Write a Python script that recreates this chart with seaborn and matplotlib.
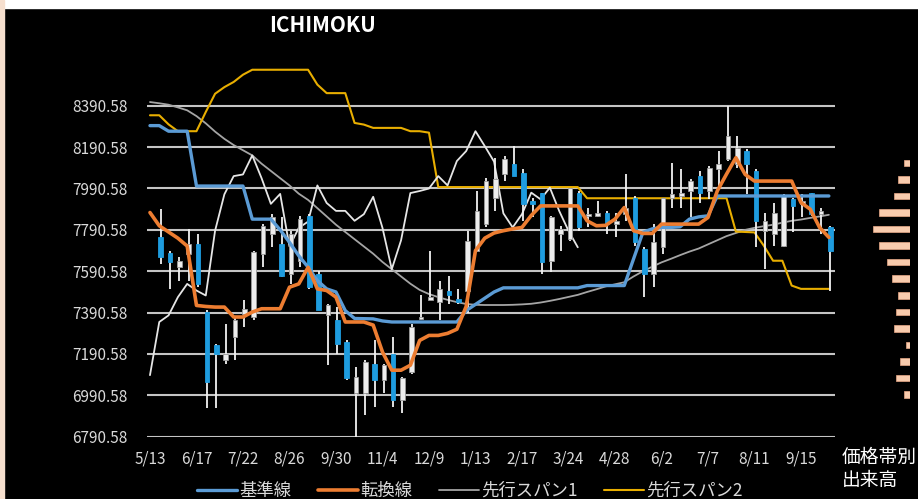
import numpy as np
import matplotlib
matplotlib.use("Agg")
import matplotlib.pyplot as plt
from matplotlib.patches import Rectangle
import seaborn as sns

# x axis labels (every 5th week)
tick_labels = ["5/13", "6/17", "7/22", "8/26", "9/30", "11/4", "12/9", "1/13",
               "2/17", "3/24", "4/28", "6/2", "7/7", "8/11", "9/15"]
price_ticks = [6790.58, 6990.58, 7190.58, 7390.58, 7590.58, 7790.58, 7990.58, 8190.58, 8390.58]

# ichimoku lines, one value per week
kijun = [8294, 8294, 8267, 8267, 8267, 8002, 8002, 8002, 8002, 8002,
         8002, 7842, 7842, 7842, 7790, 7730, 7665, 7610, 7545, 7505,
         7490, 7400, 7362, 7361, 7360, 7350, 7345, 7345, 7345, 7345,
         7345, 7345, 7345, 7345, 7400, 7430, 7460, 7490, 7510, 7510,
         7510, 7510, 7510, 7510, 7510, 7510, 7510, 7521, 7521, 7521,
         7521, 7521, 7650, 7778, 7795, 7802, 7802, 7805, 7842, 7853,
         7858, 7954, 7954, 7954, 7954, 7954, 7954, 7954, 7954, 7954,
         7954, 7954, 7954, 7954]
tenkan = [7874, 7810, 7780, 7750, 7712, 7425, 7420, 7417, 7417, 7369,
          7369, 7393, 7409, 7409, 7409, 7513, 7529, 7609, 7505, 7497,
          7465, 7345, 7345, 7345, 7330, 7200, 7112, 7112, 7136, 7256,
          7280, 7280, 7290, 7310, 7420, 7690, 7750, 7775, 7786, 7795,
          7802, 7860, 7906, 7906, 7906, 7906, 7906, 7834, 7810, 7812,
          7842, 7898, 7786, 7773, 7773, 7818, 7818, 7818, 7818, 7818,
          7850, 7978, 8060, 8139, 8058, 8026, 8026, 8026, 8026, 8026,
          7922, 7890, 7802, 7754]
senkou1 = [8408, 8402, 8395, 8382, 8368, 8340, 8305, 8265, 8230, 8200,
           8175, 8150, 8110, 8075, 8040, 8005, 7965, 7935, 7895, 7855,
           7815, 7780, 7745, 7710, 7675, 7635, 7600, 7565, 7530, 7500,
           7480, 7465, 7452, 7441, 7432, 7428, 7427, 7427, 7427, 7428,
           7430, 7433, 7439, 7447, 7456, 7466, 7476, 7490, 7503, 7517,
           7527, 7537, 7565, 7590, 7612, 7633, 7650, 7668, 7685, 7700,
           7720, 7740, 7760, 7775, 7790, 7800, 7808, 7815, 7825, 7834,
           7840, 7848, 7855, 7863]
senkou2 = [8344, 8344, 8300, 8267, 8267, 8267, 8360, 8448, 8480, 8505,
           8540, 8564, 8564, 8564, 8564, 8564, 8564, 8564, 8492, 8451,
           8451, 8451, 8307, 8299, 8283, 8283, 8283, 8283, 8267, 8267,
           8260, 7997, 7997, 7997, 7997, 7997, 7997, 7997, 7997, 7997,
           7997, 7997, 7997, 7997, 7997, 7997, 7997, 7943, 7943, 7943,
           7943, 7943, 7943, 7943, 7943, 7943, 7943, 7943, 7943, 7943,
           7943, 7943, 7943, 7782, 7780, 7778, 7714, 7641, 7641, 7521,
           7505, 7505, 7505, 7505]
chikou = [7088, 7345, 7377, 7465, 7529, 7497, 7473, 7786, 7962, 8050,
          8058, 8150, 8040, 7916, 7964, 7710, 7800, 7830, 8005, 7920,
          7882, 7882, 7834, 7866, 7950, 7800, 7600, 7740, 7968, 7978,
          7990, 8050, 8005, 8123, 8171, 8267, 8195, 8120, 7870, 7802,
          7866, 7970, 7938, 7994, 7882, 7786, 7706]

# weekly candles
opens = [7754, 7677, 7609, 7673, 7722, 7393, 7232, 7160, 7272, 7385,
         7369, 7673, 7770, 7722, 7577, 7641, 7858, 7577, 7377, 7353,
         7248, 7000, 7000, 7144, 7064, 7192, 6968, 7104, 7361, 7449,
         7441, 7497, 7457, 7497, 7690, 7818, 7946, 8058, 8107, 8066,
         7930, 7970, 7641, 7770, 7746, 7970, 7858, 7858, 7874, 7818,
         7866, 7946, 7698, 7577, 7706, 7946, 7954, 7978, 8050, 7978,
         8082, 8131, 8107, 8171, 8074, 7786, 7770, 7714, 7938, 7914,
         7970, 7866, 7802]
highs = [7890, 7690, 7657, 7794, 7770, 7401, 7240, 7337, 7369, 7449,
         7690, 7818, 7866, 7850, 7786, 7858, 7866, 7593, 7433, 7417,
         7256, 7128, 7160, 7256, 7144, 7272, 7080, 7337, 7473, 7690,
         7545, 7569, 7505, 7786, 7978, 8042, 8139, 8147, 8195, 8082,
         7946, 7970, 7858, 7810, 7994, 7978, 7898, 7930, 7882, 7874,
         8058, 7954, 7706, 7818, 7946, 8115, 8082, 8034, 8074, 8099,
         8171, 8387, 8243, 8179, 8082, 7874, 7922, 7962, 7946, 7962,
         7970, 7898, 7810]
lows = [7625, 7505, 7545, 7545, 7513, 6928, 6928, 7144, 7160, 7321,
        7353, 7609, 7706, 7561, 7529, 7609, 7505, 7401, 7136, 7192,
        7064, 6791, 6896, 6936, 7000, 6936, 6904, 7096, 7353, 7449,
        7353, 7433, 7433, 7390, 7690, 7802, 7882, 8026, 8050, 7834,
        7850, 7577, 7585, 7690, 7738, 7786, 7802, 7850, 7770, 7754,
        7834, 7714, 7465, 7513, 7673, 7898, 7898, 7850, 7922, 7938,
        8002, 8123, 8090, 7962, 7706, 7601, 7714, 7706, 7778, 7850,
        7858, 7770, 7497]
closes = [7657, 7633, 7641, 7722, 7529, 7056, 7192, 7192, 7353, 7409,
          7682, 7810, 7850, 7569, 7770, 7842, 7513, 7401, 7425, 7240,
          7072, 7080, 7152, 7064, 7136, 6968, 7072, 7321, 7369, 7465,
          7505, 7473, 7441, 7738, 7882, 8026, 8034, 8131, 8050, 7914,
          7914, 7633, 7850, 7794, 7994, 7802, 7866, 7874, 7818, 7834,
          7898, 7730, 7577, 7730, 7946, 7962, 7970, 8026, 7970, 8090,
          8107, 8243, 8187, 8107, 7834, 7834, 7874, 7954, 7906, 7930,
          7866, 7882, 7690]

# volume by price band
vol_levels = [8114, 8034, 7954, 7874, 7794, 7714, 7634, 7554, 7474, 7394, 7314, 7234, 7154, 7074, 6994]
vol_amount = [6, 12, 16, 31, 37, 31, 23, 18, 12, 14, 16, 4, 10, 14, 6]

sns.set_style("dark")
plt.rcParams["font.family"] = ["Noto Sans CJK JP", "DejaVu Sans"]
txt = "#D9D9D9"

W, H = 918, 499
fig = plt.figure(figsize=(W / 100, H / 100), dpi=100, facecolor="black")
ax = fig.add_axes([147 / W, 1 - 436.7 / H, (835 - 147) / W, (436.7 - 62.3) / H])
ax.set_facecolor("black")

weeks = np.arange(len(kijun))
lag_weeks = np.arange(len(chikou))
cx = np.arange(len(opens)) + 1.15

# cloud spans and lagging line
sns.lineplot(x=weeks, y=senkou1, ax=ax, color="#A5A5A5", linewidth=1.3, label="先行スパン1", zorder=2)
sns.lineplot(x=weeks, y=senkou2, ax=ax, color="#E8AE00", linewidth=1.5, label="先行スパン2", zorder=2)
sns.lineplot(x=lag_weeks, y=chikou, ax=ax, color="#E6E6E6", linewidth=1.3, zorder=3)

# candles
o = np.array(opens); c = np.array(closes)
up = c >= o
ax.vlines(cx, lows, highs, color="#F2F2F2", linewidth=1.3, zorder=3)
body_lo = np.minimum(o, c)
body_h = np.maximum(np.abs(c - o), 8)
ax.bar(cx[up], body_h[up], bottom=body_lo[up], width=0.5, color="#EDEDED",
       edgecolor="#9A9A9A", linewidth=0.6, zorder=3.5)
ax.bar(cx[~up], body_h[~up], bottom=body_lo[~up], width=0.5, color="#1E9CDF",
       edgecolor="#1E9CDF", linewidth=0.6, zorder=3.5)

# conversion / base lines on top
sns.lineplot(x=weeks, y=kijun, ax=ax, color="#5B9BD5", linewidth=2.4, label="基準線", zorder=5)
sns.lineplot(x=weeks, y=tenkan, ax=ax, color="#ED7D31", linewidth=2.6, label="転換線", zorder=6)

ax.set_xlim(-0.32, 73.66)
ax.set_ylim(6790.58, 8600)
ax.set_yticks(price_ticks)
ax.set_yticklabels([f"{v:.2f}" for v in price_ticks])
ax.set_xticks(np.arange(len(tick_labels)) * 5)
ax.set_xticklabels(tick_labels)
ax.set_xlabel("")
ax.set_ylabel("")
ax.grid(False)
ax.yaxis.grid(True, color="#C4C4C4", linewidth=1.5)
ax.set_axisbelow(True)
for s in ax.spines.values():
    s.set_visible(False)
ax.tick_params(axis="y", length=0, colors=txt, labelsize=11, pad=14)
ax.tick_params(axis="x", length=0, colors=txt, labelsize=11, pad=10)

# legend
handles, labels = ax.get_legend_handles_labels()
order = [labels.index(n) for n in ["基準線", "転換線", "先行スパン1", "先行スパン2"]]
ax.get_legend().remove()
fig.legend([handles[i] for i in order], [labels[i] for i in order], loc="center",
           bbox_to_anchor=(470 / W, 8 / H), ncol=4, frameon=False, fontsize=12.5,
           labelcolor=txt, handlelength=2.3, handletextpad=0.15, columnspacing=1.5)

# volume profile
axv = fig.add_axes([845 / W, 1 - 436.7 / H, 65 / W, (436.7 - 62.3) / H])
axv.set_facecolor("black")
axv.barh(vol_levels, vol_amount, height=32, color="#F8CBAD", edgecolor="#E9A987", linewidth=0.5)
axv.set_xlim(65, 0)
axv.set_ylim(6790.58, 8600)
axv.axis("off")

fig.text(323 / W, 1 - 25 / H, "ICHIMOKU", ha="center", va="center", color="white",
         fontsize=15, fontweight="bold")
fig.text(842 / W, 1 - 447 / H, "価格帯別\n出来高", ha="left", va="top", color="white",
         fontsize=13.5, linespacing=1.1)

# frame strips
fig.patches.append(Rectangle((0, 1 - 8 / H), 1, 8 / H, transform=fig.transFigure,
                             color="white", zorder=10))
fig.patches.append(Rectangle((0, 0), 4 / W, 1, transform=fig.transFigure,
                             color="#F6DFCE", zorder=10))

fig.savefig("out.png", dpi=100, facecolor="black")
